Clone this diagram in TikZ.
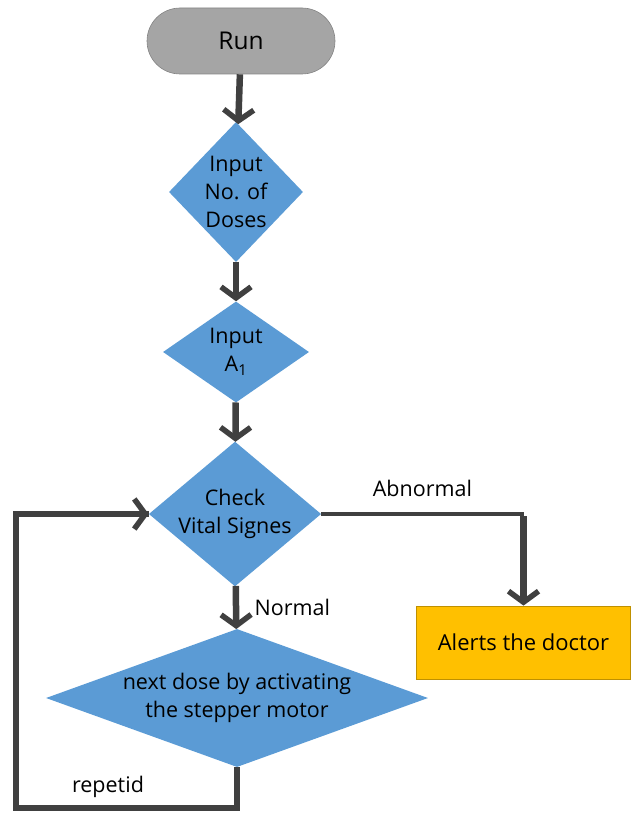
\documentclass[tikz,border=0pt]{standalone}
\usepackage{fontspec}
\setmainfont{Open Sans}
\usetikzlibrary{shapes.geometric,arrows.meta,positioning}
\definecolor{dblue}{HTML}{5B9BD5}
\definecolor{runGray}{HTML}{A5A5A5}
\definecolor{alertOrange}{HTML}{FFC000}
\definecolor{lineDark}{HTML}{404040}

\begin{document}
\begin{tikzpicture}[x=1pt,y=-1pt,
    terminal/.style={rectangle,rounded corners=33pt,fill=runGray,draw=runGray!80!black,line width=0.6pt,
        minimum width=188pt,minimum height=66pt,font=\fontsize{24.5}{29}\selectfont},
    decision/.style={diamond,fill=dblue,inner sep=0pt,align=center,font=\fontsize{21.5}{28}\selectfont},
    alertbox/.style={rectangle,fill=alertOrange,draw=alertOrange!75!black,line width=0.8pt,
        minimum width=214pt,minimum height=73pt,font=\fontsize{22}{26}\selectfont},
    lbl/.style={font=\fontsize{21.5}{24}\selectfont},
    flow/.style={draw=lineDark,line width=6.5pt,-{Straight Barb[length=11pt,width=30pt,line width=5.5pt]}},
    loopline/.style={draw=lineDark,line width=5.5pt}]
    \useasboundingbox (0,0) rectangle (631,813);
    % shapes
    \node[terminal] (run) at (241,41) {Run};
    \node[decision,minimum width=134pt,minimum height=140pt,aspect=0.96] (doses) at (236,192) {Input\\No. of\\Doses};
    \node[decision,minimum width=146pt,minimum height=101pt,aspect=1.45] (inA) at (236,352) {Input\\A\textsubscript{1}};
    \node[decision,minimum width=170pt,minimum height=143pt,aspect=1.19] (check) at (235,514) {Check\\Vital Signes};
    \node[decision,minimum width=382pt,minimum height=138pt,aspect=2.77] (motor) at (237,698) {next dose by activating\\the stepper motor};
    \node[alertbox] (alert) at (523.5,642.5) {Alerts the doctor};
    % connectors
    \draw[flow] (run) -- (doses);
    \draw[flow] (doses) -- (inA);
    \draw[flow] (inA) -- (check);
    \draw[flow] (check) -- node[lbl,right=12pt] (normal) {Normal} (motor);
    \coordinate (abncorner) at (check.east -| alert.north);
    \draw[loopline,line width=4.5pt] (check.east) -- node[lbl,above=12pt] (abnormal) {Abnormal} (abncorner);
    \draw[flow] ([yshift=-2.25pt]abncorner) -- (alert.north);
    \coordinate (loopbase) at (16,808);
    \draw[loopline] (motor.south) |- (loopbase) |- (check.west);
    \draw[flow,line width=5.5pt] (loopbase |- check.west) -- (check.west);
    \node[lbl] (repetid) at (108,787) {repetid};
\end{tikzpicture}
\end{document}
